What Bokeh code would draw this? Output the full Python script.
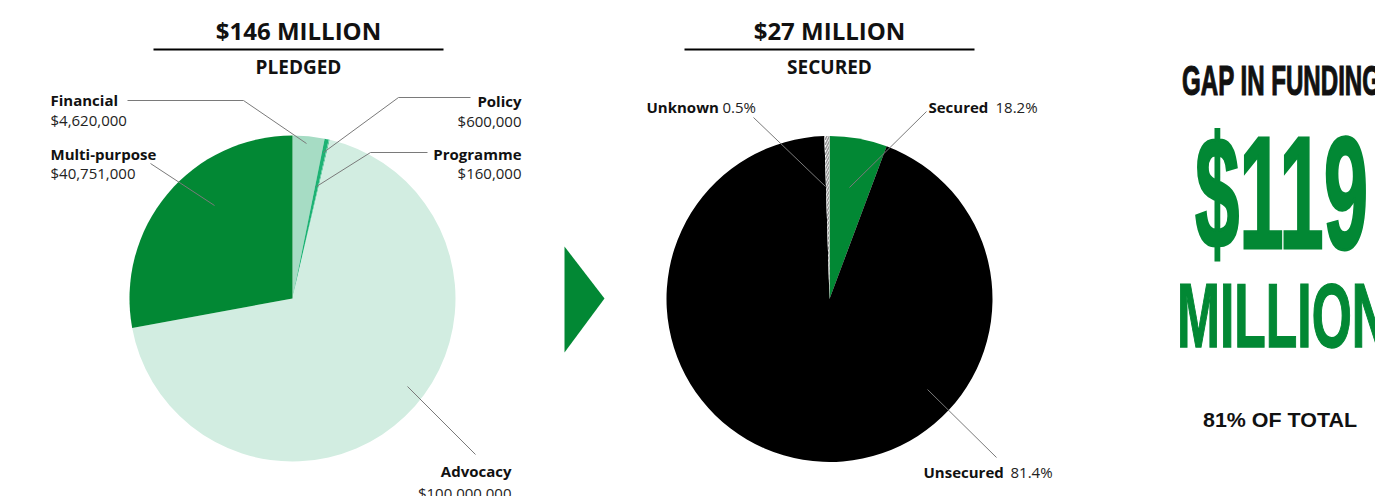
import math
from bokeh.plotting import figure
from bokeh.models import Range1d, Div, ColumnDataSource
from bokeh.layouts import row
from bokeh.embed import file_html
from bokeh.resources import INLINE
from bokeh.core.properties import value

# ---------------- data ----------------
pledged_categories = ["Financial", "Policy", "Programme", "Advocacy", "Multi-purpose"]
pledged_amounts = [4620000, 600000, 160000, 100000000, 40751000]
pledged_amount_labels = ["$4,620,000", "$600,000", "$160,000", "$100,000,000", "$40,751,000"]
pledged_colors = ["#a6dcc4", "#1cb273", "#5cc79c", "#d2ede1", "#028834"]

secured_categories = ["Secured", "Unsecured", "Unknown"]
secured_percent_labels = ["18.2%", "81.4%", "0.5%"]
secured_slice_share = [5.7, 93.8, 0.5]   # slice sizes as drawn in the source picture
secured_colors = ["#028834", "#000000", "#ffffff"]
secured_hatch = [" ", " ", "/"]

panel_titles = ["$146 MILLION", "$27 MILLION"]
panel_subtitles = ["PLEDGED", "SECURED"]
gap_heading = "GAP IN FUNDING"
gap_amount = "$119"
gap_unit = "MILLION"
gap_share = "81% OF TOTAL"

# ---------------- layout helpers ----------------
FIG_W, FIG_H = 1176, 496
DIV_W = 199
X0 = 0

def Y(sy):                   # screen y -> data y
    return FIG_H - sy

def YB(sy, fs):              # baseline correction for rendered text
    return Y(sy - 0.37 * fs)

FONT = value("Open Sans")
GREEN = "#028834"
TXT = "#111111"
LEAD = "#7a7a7a"

p = figure(width=FIG_W, height=FIG_H, output_backend="svg", toolbar_location=None,
           x_range=Range1d(X0, X0 + FIG_W), y_range=Range1d(0, FIG_H),
           min_border=0, background_fill_color="white", border_fill_color="white")
p.axis.visible = False
p.grid.visible = False
p.outline_line_color = None


def angles(vals):
    tot = float(sum(vals))
    s, e, c = [], [], 0.0
    for v in vals:
        s.append(math.pi / 2 - 2 * math.pi * c / tot)
        c += v
        e.append(math.pi / 2 - 2 * math.pi * c / tot)
    return s, e

R = 163
# left pie
ls, le = angles(pledged_amounts)
src_l = ColumnDataSource(dict(s=ls, e=le, c=pledged_colors, cat=pledged_categories))
p.wedge(x=292, y=Y(298), radius=R, start_angle="s", end_angle="e", direction="clock",
        fill_color="c", line_color=None, source=src_l)

# right pie
rs, re_ = angles(secured_slice_share)
src_r = ColumnDataSource(dict(s=rs, e=re_, c=secured_colors, h=secured_hatch, cat=secured_categories))
p.wedge(x=829, y=Y(298.5), radius=R, start_angle="s", end_angle="e", direction="clock",
        fill_color="c", line_color=None, hatch_pattern="h", hatch_color="#9a9a9a",
        hatch_scale=5, hatch_weight=1.6, source=src_r)

# arrow
p.patch(x=[564, 604, 564], y=[Y(246), Y(298), Y(352)], fill_color=GREEN, line_color=None)

# titles
for cx, t, st in zip([298, 829], panel_titles, panel_subtitles):
    p.text(x=[cx], y=[YB(38.5, 24)], text=[t], text_align="center", text_baseline="alphabetic",
           text_font=FONT, text_font_style="bold", text_font_size="24px", text_color=TXT)
    p.text(x=[cx], y=[YB(74, 19)], text=[st], text_align="center", text_baseline="alphabetic",
           text_font=FONT, text_font_style="bold", text_font_size="19px", text_color=TXT)
p.segment(x0=[153, 684], y0=[Y(49)] * 2, x1=[443, 974], y1=[Y(49)] * 2,
          line_color="#000000", line_width=2)

LFS = 15
# left labels: (x, baseline name, baseline amount, align)
left_pos = {
    "Financial": (50, 105.5, 125.5, "left"),
    "Policy": (521, 106.5, 126.5, "right"),
    "Programme": (521, 159, 178, "right"),
    "Advocacy": (511, 476.5, 498, "right"),
    "Multi-purpose": (50, 159, 178, "left"),
}
for cat, amt in zip(pledged_categories, pledged_amount_labels):
    x, yb1, yb2, al = left_pos[cat]
    p.text(x=[x], y=[YB(yb1, LFS)], text=[cat], text_align=al, text_baseline="alphabetic",
           text_font=FONT, text_font_style="bold", text_font_size=f"{LFS}px", text_color=TXT)
    p.text(x=[x], y=[YB(yb2, LFS)], text=[amt], text_align=al, text_baseline="alphabetic",
           text_font=FONT, text_font_size=f"{LFS}px", text_color="#222222")

leaders = {
    "Financial": [(127, 100), (243, 100), (306, 143)],
    "Policy": [(470, 97), (398, 97), (323, 152)],
    "Programme": [(427, 152), (370, 152), (316, 186)],
    "Multi-purpose": [(150, 163), (214, 205)],
    "Advocacy": [(407, 386), (475, 454)],
    "Unknown": [(753, 117), (825, 186)],
    "Secured": [(926, 111), (849, 187)],
    "Unsecured": [(927, 389), (996, 457)],
}
for pts in leaders.values():
    p.line(x=[a for a, b in pts], y=[Y(b) for a, b in pts], line_color=LEAD, line_width=1)

# right labels
right_pos = {
    "Secured": (928, 995, 112),
    "Unsecured": (923, 1010, 477),
    "Unknown": (646, 722, 112),
}
for cat, pct in zip(secured_categories, secured_percent_labels):
    x1, x2, yb = right_pos[cat]
    p.text(x=[x1], y=[YB(yb, LFS)], text=[cat], text_align="left", text_baseline="alphabetic",
           text_font=FONT, text_font_style="bold", text_font_size=f"{LFS}px", text_color=TXT)
    p.text(x=[x2], y=[YB(yb, LFS)], text=[pct], text_align="left", text_baseline="alphabetic",
           text_font=FONT, text_font_size=f"{LFS}px", text_color="#222222")

# gap panel (condensed display type via SVG textLength)
DX = X0 + FIG_W
svg = f"""
<svg xmlns="http://www.w3.org/2000/svg" width="{DIV_W}" height="{FIG_H}" style="display:block;overflow:hidden">
 <text x="{1182 - DX}" y="95" font-family="Roboto" font-weight="900" font-size="43"
       textLength="199" lengthAdjust="spacingAndGlyphs" fill="#111111" stroke="#111111" stroke-width="1.2">{gap_heading}</text>
 <text x="{1195 - DX}" y="248" font-family="Roboto" font-weight="900" font-size="159"
       textLength="173" lengthAdjust="spacingAndGlyphs" fill="{GREEN}" stroke="{GREEN}" stroke-width="3">{gap_amount}</text>
 <text x="{1177 - DX}" y="347" font-family="Roboto" font-weight="900" font-size="91"
       textLength="212" lengthAdjust="spacingAndGlyphs" fill="{GREEN}" stroke="{GREEN}" stroke-width="1.5">{gap_unit}</text>
 <text x="{1203 - DX}" y="427" font-family="Open Sans" font-weight="bold" font-size="20"
       textLength="154" lengthAdjust="spacingAndGlyphs" fill="#111111">{gap_share}</text>
</svg>
"""
div = Div(text=svg, width=DIV_W, height=FIG_H, margin=(0, 0, 0, 0),
          styles={"overflow": "hidden", "padding": "0px"})

layout = row(p, div, spacing=0)
open("out.html", "w").write(file_html(layout, INLINE))
